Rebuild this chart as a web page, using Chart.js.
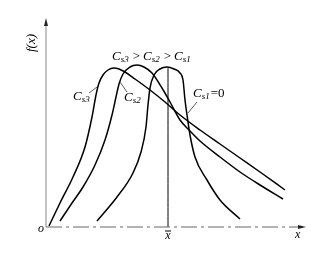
<!DOCTYPE html>
<html>
<head>
<meta charset="utf-8">
<script src="https://cdn.jsdelivr.net/npm/chart.js@4/dist/chart.umd.min.js"></script>
<style>
  html, body { margin: 0; padding: 0; background: #fff; }
  #wrap { width: 330px; height: 255px; }
</style>
</head>
<body>
<div id="wrap"><canvas id="curveChart" width="330" height="255"></canvas></div>
<script>
// x and f(x) in arbitrary units
const cs3X = [0.1, 1.2, 2.5, 3.7, 4.4, 4.8, 5.1, 5.5, 6.0, 6.6, 7.1, 7.7, 8.7, 10.2, 11.7, 13.2, 15.2, 17.2, 19.2, 21.2, 23.7];
const cs3Y = [0.1, 2.4, 5.0, 8.0, 11.0, 13.2, 14.4, 15.2, 15.7, 15.9, 15.8, 15.5, 14.8, 13.7, 12.5, 11.2, 9.7, 8.3, 6.9, 5.5, 3.7];

const cs2X = [1.2, 2.4, 3.5, 4.7, 5.7, 6.4, 6.8, 7.1, 7.5, 8.2, 8.9, 9.6, 10.4, 11.4, 12.2, 13.2, 14.2, 15.2, 17.2, 19.2, 21.2, 23.5];
const cs2Y = [0.6, 2.4, 4.0, 6.2, 8.7, 11.2, 13.0, 14.3, 15.3, 16.0, 16.2, 16.0, 15.4, 13.9, 12.5, 10.7, 9.6, 8.6, 7.0, 5.5, 4.2, 2.8];

const cs1X = [4.9, 6.9, 8.5, 9.3, 9.8, 10.0, 10.2, 10.6, 11.2, 11.9, 12.6, 13.2, 13.5, 13.7, 13.9, 14.2, 14.7, 15.9, 17.2, 19.2];
const cs1Y = [0.6, 3.0, 5.4, 7.5, 10.0, 12.2, 13.9, 15.2, 15.8, 16.0, 15.8, 15.4, 14.7, 12.7, 11.2, 9.2, 7.0, 4.7, 2.7, 0.8];

const meanX = 12.0;
const meanTop = 15.9;

const toPoints = (xs, ys) => xs.map((x, i) => ({ x: x, y: ys[i] }));

const serif = '"Liberation Serif", "DejaVu Serif", serif';

// C with subscript, returns the x where it ends
const drawC = (ctx, x, y, sub) => {
    ctx.font = 'italic 13px ' + serif;
    ctx.fillText('C', x, y);
    let w = ctx.measureText('C').width;
    ctx.font = 'italic 9px ' + serif;
    ctx.fillText(sub, x + w, y + 2);
    return x + w + ctx.measureText(sub).width;
};

const sketchPlugin = {
    id: 'sketch',
    afterDraw(chart) {
        const ctx = chart.ctx;
        const xs = chart.scales.x;
        const ys = chart.scales.y;
        const x0 = xs.getPixelForValue(-0.2);
        const y0 = ys.getPixelForValue(0);
        const right = chart.chartArea.right;
        const top = chart.chartArea.top;

        ctx.save();
        // y axis
        ctx.strokeStyle = '#8a8a8a';
        ctx.lineWidth = 1;
        ctx.beginPath();
        ctx.moveTo(x0, y0);
        ctx.lineTo(x0, top + 4);
        ctx.stroke();
        // x axis
        ctx.strokeStyle = '#666';
        ctx.setLineDash([16, 4, 3, 4]);
        ctx.beginPath();
        ctx.moveTo(x0, y0);
        ctx.lineTo(right - 4, y0);
        ctx.stroke();
        ctx.setLineDash([]);

        // arrow heads
        ctx.fillStyle = '#222';
        ctx.beginPath();
        ctx.moveTo(x0, top - 2);
        ctx.lineTo(x0 - 2, top + 6);
        ctx.lineTo(x0 + 2, top + 6);
        ctx.closePath();
        ctx.fill();
        ctx.beginPath();
        ctx.moveTo(right + 1, y0);
        ctx.lineTo(right - 7, y0 - 2);
        ctx.lineTo(right - 7, y0 + 2);
        ctx.closePath();
        ctx.fill();

        ctx.fillStyle = '#000';
        ctx.textBaseline = 'alphabetic';
        ctx.textAlign = 'left';

        // axis labels
        ctx.font = 'italic 12px ' + serif;
        ctx.fillText('o', x0 - 8, y0 + 5);
        ctx.fillText('x', right - 10, y0 + 11);
        const mx = xs.getPixelForValue(meanX);
        ctx.textAlign = 'center';
        ctx.fillText('x', mx, y0 + 12);
        ctx.strokeStyle = '#000';
        ctx.beginPath();
        ctx.moveTo(mx - 3, y0 + 4);
        ctx.lineTo(mx + 3, y0 + 4);
        ctx.stroke();

        ctx.save();
        ctx.translate(x0 - 11, ys.getPixelForValue(18.4));
        ctx.rotate(-Math.PI / 2);
        ctx.font = 'italic 13px ' + serif;
        ctx.fillText('f(x)', 0, 0);
        ctx.restore();

        ctx.textAlign = 'left';
        // top relation label
        const gt = (x, y) => {
            ctx.font = '13px ' + serif;
            ctx.fillText('>', x + 3, y);
            return x + 6 + ctx.measureText('>').width;
        };
        let px = xs.getPixelForValue(6.4);
        let py = ys.getPixelForValue(16.7);
        px = drawC(ctx, px, py, 's3') + 1;
        px = gt(px, py);
        px = drawC(ctx, px, py, 's2') + 1;
        px = gt(px, py);
        drawC(ctx, px, py, 's1');

        // curve labels with leader lines
        drawC(ctx, xs.getPixelForValue(2.5), ys.getPixelForValue(12.7), 's3');
        drawC(ctx, xs.getPixelForValue(7.6), ys.getPixelForValue(12.6), 's2');
        px = drawC(ctx, xs.getPixelForValue(14.5), ys.getPixelForValue(13.0), 's1');
        ctx.font = '13px ' + serif;
        ctx.fillText('=0', px + 1, ys.getPixelForValue(13.0));

        ctx.lineWidth = 0.8;
        ctx.strokeStyle = '#333';
        const leader = (xa, ya, xb, yb) => {
            ctx.beginPath();
            ctx.moveTo(xs.getPixelForValue(xa), ys.getPixelForValue(ya));
            ctx.lineTo(xs.getPixelForValue(xb), ys.getPixelForValue(yb));
            ctx.stroke();
        };
        leader(4.1, 13.4, 4.9, 14.0);
        leader(7.2, 14.5, 7.9, 13.5);
        leader(14.9, 12.5, 14.0, 11.4);
        ctx.restore();
    }
};

const lineStyle = {
    borderColor: '#000',
    borderWidth: 1.5,
    pointRadius: 0,
    showLine: true,
    fill: false,
    cubicInterpolationMode: 'monotone'
};

new Chart(document.getElementById('curveChart'), {
    type: 'scatter',
    data: {
        datasets: [
            { label: 'Cs3', data: toPoints(cs3X, cs3Y), ...lineStyle },
            { label: 'Cs2', data: toPoints(cs2X, cs2Y), ...lineStyle },
            { label: 'Cs1', data: toPoints(cs1X, cs1Y), ...lineStyle },
            { label: 'mean', data: [{ x: meanX, y: 0 }, { x: meanX, y: meanTop }], ...lineStyle, borderWidth: 1 }
        ]
    },
    options: {
        responsive: false,
        animation: false,
        layout: { padding: { left: 46, right: 25, top: 20, bottom: 28 } },
        plugins: {
            legend: { display: false },
            tooltip: { enabled: false }
        },
        scales: {
            x: { type: 'linear', min: -0.2, max: 25.7, display: false },
            y: { type: 'linear', min: 0, max: 20.7, display: false }
        }
    },
    plugins: [sketchPlugin]
});
</script>
</body>
</html>
